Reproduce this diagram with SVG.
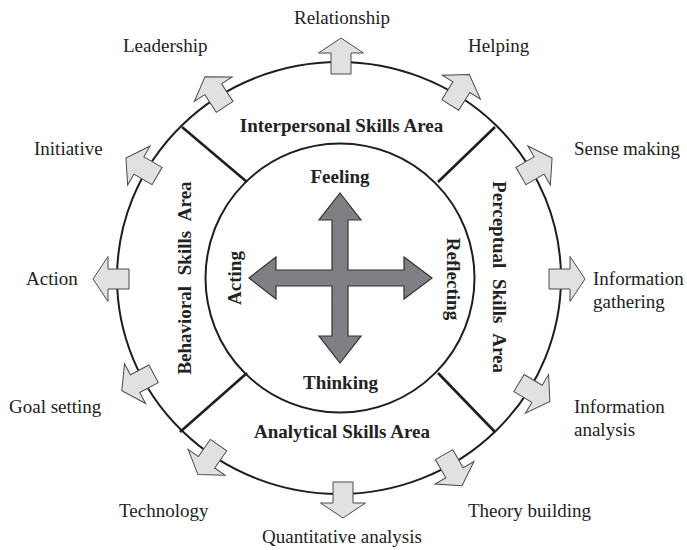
<svg xmlns="http://www.w3.org/2000/svg" xmlns:xlink="http://www.w3.org/1999/xlink" width="687" height="550" viewBox="0 0 687 550">
<style>
.ring{fill:none;stroke:#1e1e1e;stroke-width:2}
.div{stroke:#1e1e1e;stroke-width:2.6;fill:none}
.lbl{font-family:"Liberation Serif","Times New Roman",serif;font-size:19px;fill:#222}
.area{font-family:"Liberation Serif","Times New Roman",serif;font-size:19px;font-weight:bold;fill:#222;text-anchor:middle}
.ba{fill:#e1e1e3;stroke:#4a4a4a;stroke-width:1}
.cross{fill:#7e8084;stroke:#333;stroke-width:1.2}
</style>
<defs>
<polygon id="ba" points="-12,-10 9,-10 9,-22.5 24,0 9,22.5 9,10 -12,10"/>
</defs>
<rect width="687" height="550" fill="#ffffff"/>

<g id="outer-ring"><ellipse class="ring" cx="339" cy="278" rx="222" ry="216"/></g>
<g id="inner-ring"><circle class="ring" cx="340" cy="278" r="134.5"/></g>

<g id="dividers">
<line class="div" x1="182" y1="127" x2="247" y2="182"/>
<line class="div" x1="495" y1="127" x2="438" y2="182"/>
<line class="div" x1="180" y1="432" x2="247" y2="373"/>
<line class="div" x1="495" y1="432" x2="438" y2="373"/>
</g>

<g id="interpersonal-area"><text class="area" x="341.5" y="132">Interpersonal Skills Area</text></g>
<g id="analytical-area"><text class="area" x="342" y="438">Analytical Skills Area</text></g>
<g id="behavioral-area"><text class="area" transform="translate(191,278) rotate(-90)" word-spacing="6">Behavioral Skills Area</text></g>
<g id="perceptual-area"><text class="area" transform="translate(493,277) rotate(90)" word-spacing="6">Perceptual Skills Area</text></g>

<g id="center-cross">
<polygon class="cross" points="340,193 361,220 348,220 348,270 404,270 404,257 432,278 404,299 404,286 348,286 348,336 361,336 340,363 319,336 332,336 332,286 276,286 276,299 249,278 276,257 276,270 332,270 332,220 319,220"/>
<text class="area" x="340" y="183">Feeling</text>
<text class="area" x="340.5" y="389">Thinking</text>
<text class="area" transform="translate(241,278) rotate(-90)">Acting</text>
<text class="area" transform="translate(447,279) rotate(90)">Reflecting</text>
</g>

<g id="connectors">
<use xlink:href="#ba" href="#ba" class="ba" transform="translate(341,62) rotate(-90)"/>
<use xlink:href="#ba" href="#ba" class="ba" transform="translate(456.6,94.8) rotate(-58)"/>
<use xlink:href="#ba" href="#ba" class="ba" transform="translate(531.3,170) rotate(-30)"/>
<use xlink:href="#ba" href="#ba" class="ba" transform="translate(561,279) rotate(0)"/>
<use xlink:href="#ba" href="#ba" class="ba" transform="translate(529.3,389.2) rotate(31)"/>
<use xlink:href="#ba" href="#ba" class="ba" transform="translate(450,465) rotate(60)"/>
<use xlink:href="#ba" href="#ba" class="ba" transform="translate(343,494) rotate(90)"/>
<use xlink:href="#ba" href="#ba" class="ba" transform="translate(211.7,454.9) rotate(125)"/>
<use xlink:href="#ba" href="#ba" class="ba" transform="translate(143,379.4) rotate(152)"/>
<use xlink:href="#ba" href="#ba" class="ba" transform="translate(117,279) rotate(180)"/>
<use xlink:href="#ba" href="#ba" class="ba" transform="translate(146.7,170) rotate(-150)"/>
<use xlink:href="#ba" href="#ba" class="ba" transform="translate(218.1,96.8) rotate(-123)"/>
</g>

<g id="relationship"><text class="lbl" x="342" y="24" text-anchor="middle">Relationship</text></g>
<g id="helping"><text class="lbl" x="468" y="52">Helping</text></g>
<g id="sense-making"><text class="lbl" x="574" y="155">Sense making</text></g>
<g id="information-gathering"><text class="lbl" x="593" y="285">Information</text><text class="lbl" x="593" y="308">gathering</text></g>
<g id="information-analysis"><text class="lbl" x="574" y="413">Information</text><text class="lbl" x="574" y="436">analysis</text></g>
<g id="theory-building"><text class="lbl" x="468" y="517">Theory building</text></g>
<g id="quantitative-analysis"><text class="lbl" x="342" y="543" text-anchor="middle">Quantitative analysis</text></g>
<g id="technology"><text class="lbl" x="119" y="517">Technology</text></g>
<g id="goal-setting"><text class="lbl" x="9" y="413">Goal setting</text></g>
<g id="action"><text class="lbl" x="26" y="285">Action</text></g>
<g id="initiative"><text class="lbl" x="34" y="155">Initiative</text></g>
<g id="leadership"><text class="lbl" x="123" y="52">Leadership</text></g>
</svg>
